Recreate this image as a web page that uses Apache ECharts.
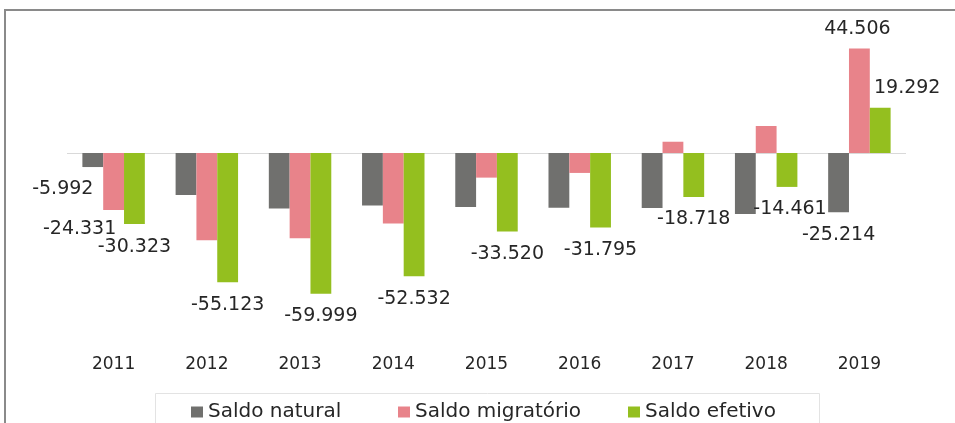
<!DOCTYPE html>
<html>
<head>
<meta charset="utf-8">
<script src="https://cdn.jsdelivr.net/npm/echarts@6/dist/echarts.min.js"></script>
<style>
html,body{margin:0;padding:0;background:#fff;}
#chart{width:955px;height:423px;}
</style>
</head>
<body>
<div id="chart"></div>
<script>
// ---- data ----
const categories = ['2011','2012','2013','2014','2015','2016','2017','2018','2019'];
const seriesNames = ['Saldo natural','Saldo migratório','Saldo efetivo'];
const saldoNatural   = [-5992, -17900, -23700, -22400, -23000, -23300, -23500, -26000, -25214];
const saldoMigratorio = [-24331, -37200, -36300, -30100, -10500, -8500, 4800, 11500, 44506];
const saldoEfetivo   = [-30323, -55123, -59999, -52532, -33520, -31795, -18718, -14461, 19292];
// which points carry a visible value label
const labelledNatural = [0, 8];
const labelledMigratorio = [0, 8];
const labelledEfetivo = [0,1,2,3,4,5,6,7,8];

// ---- styling ----
const FONT = 'DejaVu Sans';
const colors = ['#70706e', '#e8838a', '#94bf1f'];
const labelOffsets = {
  '0-0': [-30, 0],
  '1-0': [-34, -4],
  '2-7': [3, 0],
  '2-8': [27, 0],
  '1-8': [-2, 0]
};
const legendLefts = [191, 398, 628];

function fmt(v){
  const s = Math.abs(v).toString().replace(/\B(?=(\d{3})+(?!\d))/g, '.');
  return (v < 0 ? '-' : '') + s;
}

function buildData(values, labelled, sIdx){
  return values.map((v, i) => {
    const show = labelled.indexOf(i) >= 0;
    return {
      value: v,
      label: {
        show: show,
        position: v < 0 ? 'bottom' : 'top',
        distance: v < 0 ? 13 : 10,
        offset: labelOffsets[sIdx + '-' + i] || [0, 0],
        formatter: p => fmt(p.value),
        color: '#262626',
        fontFamily: FONT,
        fontSize: 19
      }
    };
  });
}

const allValues = [saldoNatural, saldoMigratorio, saldoEfetivo];
const allLabelled = [labelledNatural, labelledMigratorio, labelledEfetivo];

const chart = echarts.init(document.getElementById('chart'), null, {renderer: 'canvas'});
const option = {
  animation: false,
  backgroundColor: '#ffffff',
  graphic: [{
    type: 'rect',
    shape: {x: 5, y: 10, width: 1200, height: 600},
    style: {fill: 'none', stroke: '#8a8a8a', lineWidth: 2},
    silent: true,
    z: 100
  }, {
    type: 'rect',
    shape: {x: 155.5, y: 393.5, width: 664, height: 60},
    style: {fill: 'none', stroke: '#e3e3e3', lineWidth: 1},
    silent: true,
    z: 0
  }],
  grid: {left: 67, right: 49, top: 35.7, bottom: 105.8, containLabel: false},
  legend: seriesNames.map((n, i) => ({
    data: [n],
    left: legendLefts[i],
    top: 402,
    itemWidth: 12,
    itemHeight: 11,
    icon: 'rect',
    padding: 0,
    textStyle: {fontFamily: FONT, fontSize: 20, color: '#262626'}
  })),
  xAxis: {
    type: 'category',
    data: categories,
    axisLine: {show: false, onZero: false},
    axisTick: {show: false},
    axisLabel: {fontFamily: FONT, fontSize: 17, color: '#262626', margin: 39}
  },
  yAxis: {
    type: 'value',
    min: -70000,
    max: 50000,
    show: false,
    splitLine: {show: false}
  },
  series: allValues.map((vals, s) => ({
    name: seriesNames[s],
    type: 'bar',
    data: buildData(vals, allLabelled[s], s),
    itemStyle: {color: colors[s]},
    barGap: '0%',
    barCategoryGap: '33%',
    markLine: s === 0 ? {
      silent: true,
      symbol: 'none',
      label: {show: false},
      lineStyle: {color: '#d9d9d9', type: 'solid', width: 1},
      data: [{yAxis: 0}],
      z: 1
    } : undefined
  }))
};
chart.setOption(option);
</script>
</body>
</html>
